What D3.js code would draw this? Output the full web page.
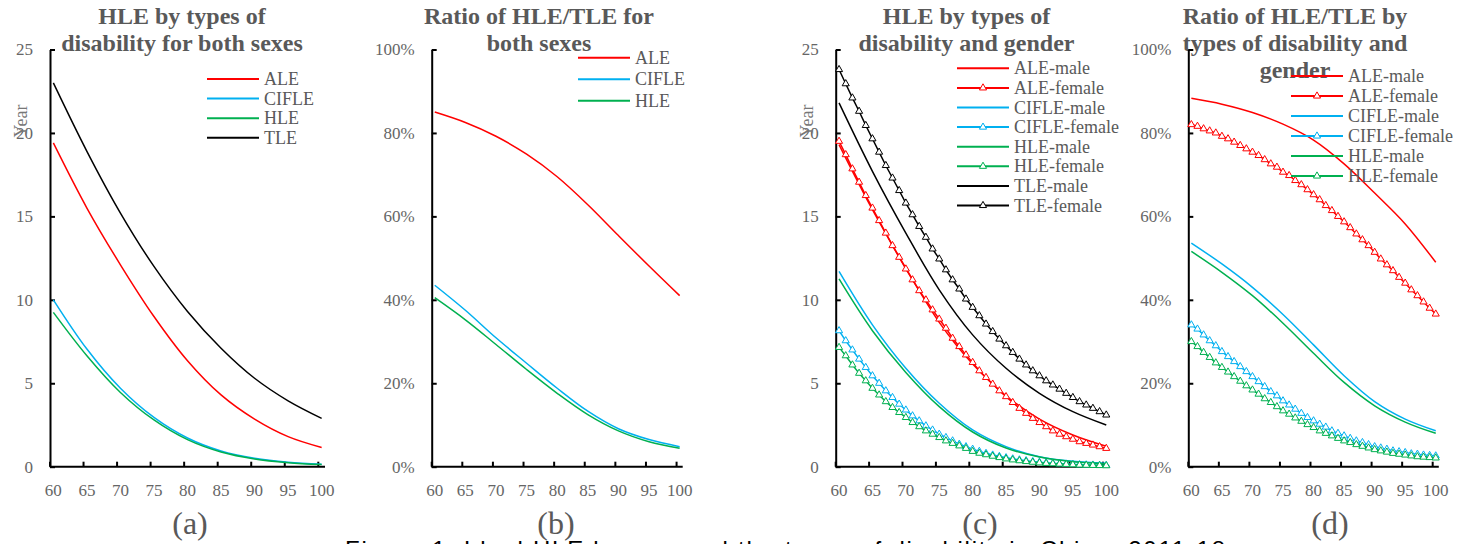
<!DOCTYPE html>
<html>
<head>
<meta charset="utf-8">
<script src="https://cdn.jsdelivr.net/npm/d3@7"></script>
<style>
body{margin:0;background:#fff;}
svg{display:block;font-family:"Liberation Serif","Times New Roman",serif;}
</style>
</head>
<body>
<div class="c_fig"></div>
<script>

/*DATA
------------------------------------------------------
*/
const ages = [60,61,62,63,64,65,66,67,68,69,70,71,72,73,74,75,76,77,78,79,80,
	81,82,83,84,85,86,87,88,89,90,91,92,93,94,95,96,97,98,99,100];
const ages5 = [60,65,70,75,80,85,90,95,100];

// (a) years, both sexes
const aALE   = [19.4, 15.5, 12.1, 9.0, 6.35, 4.3, 2.85, 1.8, 1.15];
const aCIFLE = [10.0, 7.05, 4.7, 2.95, 1.72, 0.94, 0.5, 0.26, 0.14];
const aHLE   = [9.25, 6.65, 4.45, 2.8, 1.62, 0.88, 0.46, 0.24, 0.13];
const aTLE   = [23.0, 18.9, 15.2, 12.0, 9.3, 7.1, 5.3, 3.95, 2.9];

// (b) ratio %, both sexes
const bALE   = [85.0, 82.5, 79.2, 74.9, 69.5, 62.8, 55.4, 48.1, 41.0];
const bCIFLE = [43.5, 37.5, 30.9, 24.8, 18.8, 13.3, 9.1, 6.5, 4.8];
const bHLE   = [40.5, 35.2, 29.3, 23.3, 17.6, 12.5, 8.6, 6.0, 4.4];

// (c) years by gender
const cALEm   = [19.3, 15.4, 11.9, 8.65, 6.15, 4.25, 2.85, 1.9, 1.22];
const cCIFLEm = [11.7, 8.5, 5.9, 3.8, 2.2, 1.2, 0.6, 0.32, 0.2];
const cHLEm   = [11.25, 8.15, 5.65, 3.6, 2.08, 1.12, 0.58, 0.3, 0.18];
const cTLEm   = [21.8, 17.7, 14.0, 10.6, 7.9, 5.9, 4.4, 3.3, 2.5];
const cALEf   = [19.5,18.7,17.85,17.05,16.25,15.5,14.75,14.0,13.25,12.55,
	11.85,11.2,10.55,10.0,9.4,8.85,8.3,7.7,7.2,6.7,
	6.25,5.75,5.35,4.95,4.55,4.2,3.85,3.5,3.2,2.9,
	2.65,2.4,2.15,1.95,1.8,1.65,1.5,1.4,1.3,1.2,1.1];
const cCIFLEf = [8.15,7.55,7.0,6.45,5.95,5.45,5.0,4.55,4.15,3.75,
	3.4,3.05,2.75,2.45,2.2,1.95,1.75,1.55,1.35,1.2,
	1.05,0.92,0.8,0.7,0.62,0.54,0.47,0.41,0.36,0.31,
	0.27,0.24,0.21,0.18,0.16,0.14,0.12,0.11,0.1,0.09,0.08];
const cHLEf   = [7.15,6.65,6.1,5.6,5.15,4.7,4.3,3.9,3.55,3.25,
	2.95,2.65,2.4,2.15,1.95,1.75,1.55,1.4,1.25,1.1,
	0.92,0.81,0.72,0.63,0.55,0.47,0.41,0.36,0.31,0.27,
	0.23,0.2,0.18,0.16,0.14,0.12,0.1,0.09,0.08,0.07,0.06];
const cTLEf   = [23.8,22.95,22.1,21.3,20.45,19.65,18.85,18.05,17.3,16.55,
	15.8,15.1,14.4,13.75,13.05,12.45,11.8,11.2,10.65,10.05,
	9.55,9.05,8.55,8.1,7.65,7.25,6.85,6.45,6.1,5.75,
	5.45,5.15,4.9,4.65,4.4,4.15,3.9,3.7,3.5,3.3,3.1];

// (d) ratio % by gender
const dALEm   = [88.3, 86.9, 84.9, 82.1, 78.3, 72.6, 65.6, 58.2, 49.0];
const dCIFLEm = [53.6, 48.6, 43.0, 36.5, 29.2, 21.8, 15.6, 11.4, 8.6];
const dHLEm   = [51.6, 46.6, 41.0, 34.4, 27.2, 20.2, 14.6, 10.7, 8.0];
const dALEf   = [82.0,81.6,81.0,80.5,80.0,79.2,78.6,77.8,77.0,76.2,
	75.4,74.6,73.6,72.6,71.8,70.6,69.8,68.6,67.6,66.4,
	65.2,64.0,62.6,61.4,60.0,58.7,57.3,55.8,54.4,53.0,
	51.4,49.8,48.4,47.0,45.4,44.0,42.4,41.0,39.5,38.0,36.6];
const dCIFLEf = [34.0,33.0,31.6,30.2,29.0,27.6,26.4,25.2,24.0,22.8,
	21.6,20.4,19.2,18.0,17.0,15.8,14.8,13.8,12.8,11.8,
	11.0,10.2,9.5,8.6,8.0,7.4,6.8,6.2,5.8,5.3,
	4.8,4.5,4.2,3.8,3.6,3.4,3.1,3.0,2.8,2.7,2.6];
const dHLEf   = [30.0,28.8,27.4,26.2,24.9,23.8,22.7,21.6,20.5,19.4,
	18.4,17.4,16.3,15.4,14.4,13.4,12.6,11.7,10.9,10.1,
	9.4,8.6,8.0,7.4,6.8,6.2,5.8,5.3,4.9,4.5,
	4.1,3.8,3.5,3.2,3.0,2.8,2.6,2.4,2.3,2.2,2.1];

const yearTicks  = [0,5,10,15,20,25];
const ratioTicks = [0,20,40,60,80,100];
const xTicks = [60,65,70,75,80,85,90,95,100];

const RED = "#ff0000", BLUE = "#00b0f0", GREEN = "#00b050", BLACK = "#000000";
const SERIF = "Liberation Serif, Times New Roman, serif";

/*SVG
------------------------------------------------------
*/
const width = 1459, height = 544;
const yTop = 49.5, yBottom = 466.7;

const svg = d3.select(".c_fig")
	.append("svg")
	.attr("width", width)
	.attr("height", height);

const panels = [
	{label:"(a)", labelX:190, left:50, right:325, max:25, ticks:yearTicks, fmt:d=>d,
	 title:["HLE by types of","disability for both sexes"], titleX:182, yName:true,
	 legend:{x:207, y:79, dy:19.6},
	 series:[
		{name:"ALE", color:RED, ages:ages5, values:aALE},
		{name:"CIFLE", color:BLUE, ages:ages5, values:aCIFLE},
		{name:"HLE", color:GREEN, ages:ages5, values:aHLE},
		{name:"TLE", color:BLACK, ages:ages5, values:aTLE}]},
	{label:"(b)", labelX:556, left:431.7, right:682.7, max:100, ticks:ratioTicks, fmt:d=>d+"%",
	 title:["Ratio of HLE/TLE for","both sexes"], titleX:539,
	 legend:{x:578, y:57.7, dy:21.5},
	 series:[
		{name:"ALE", color:RED, ages:ages5, values:bALE},
		{name:"CIFLE", color:BLUE, ages:ages5, values:bCIFLE},
		{name:"HLE", color:GREEN, ages:ages5, values:bHLE}]},
	{label:"(c)", labelX:980, left:835.7, right:1109.6, max:25, ticks:yearTicks, fmt:d=>d,
	 title:["HLE by types of","disability and gender"], titleX:966.5, yName:true,
	 legend:{x:957, y:68.3, dy:19.6},
	 series:[
		{name:"ALE-male", color:RED, ages:ages5, values:cALEm},
		{name:"ALE-female", color:RED, ages:ages, values:cALEf, marker:true},
		{name:"CIFLE-male", color:BLUE, ages:ages5, values:cCIFLEm},
		{name:"CIFLE-female", color:BLUE, ages:ages, values:cCIFLEf, marker:true},
		{name:"HLE-male", color:GREEN, ages:ages5, values:cHLEm},
		{name:"HLE-female", color:GREEN, ages:ages, values:cHLEf, marker:true},
		{name:"TLE-male", color:BLACK, ages:ages5, values:cTLEm},
		{name:"TLE-female", color:BLACK, ages:ages, values:cTLEf, marker:true}]},
	{label:"(d)", labelX:1330, left:1188.3, right:1438.8, max:100, ticks:ratioTicks, fmt:d=>d+"%",
	 title:["Ratio of HLE/TLE by","types of disability and","gender"], titleX:1295,
	 legend:{x:1291, y:76, dy:20},
	 series:[
		{name:"ALE-male", color:RED, ages:ages5, values:dALEm},
		{name:"ALE-female", color:RED, ages:ages, values:dALEf, marker:true},
		{name:"CIFLE-male", color:BLUE, ages:ages5, values:dCIFLEm},
		{name:"CIFLE-female", color:BLUE, ages:ages, values:dCIFLEf, marker:true},
		{name:"HLE-male", color:GREEN, ages:ages5, values:dHLEm},
		{name:"HLE-female", color:GREEN, ages:ages, values:dHLEf, marker:true}]}
];

const tri = d3.symbol().type(d3.symbolTriangle).size(22);

panels.forEach(function(p){
	let g = svg.append("g");

	/*SCALES*/
	let x = d3.scaleBand().domain(ages).range([p.left, p.right]).padding(0);
	let xc = a => x(a) + x.bandwidth()/2;
	let y = d3.scaleLinear().domain([0, p.max]).range([yBottom, yTop]);

	/*TITLE*/
	g.append("text")
		.attr("text-anchor","middle")
		.attr("font-family", SERIF)
		.attr("font-weight","bold")
		.attr("font-size","24px")
		.attr("fill","#595959")
		.selectAll("tspan")
		.data(p.title)
		.enter()
		.append("tspan")
		.attr("x", p.titleX)
		.attr("y", (d,i) => 24 + i*27)
		.text(d => d);

	/*Y AXIS*/
	let yAxis = d3.axisLeft(y)
		.tickValues(p.ticks)
		.tickFormat(p.fmt)
		.tickSizeInner(-5)
		.tickSizeOuter(0)
		.tickPadding(17);
	let ya = g.append("g")
		.attr("transform","translate(" + p.left + ",0)")
		.call(yAxis)
		.attr("font-family", SERIF);
	ya.select(".domain").attr("stroke","#000").attr("stroke-width",2);
	ya.selectAll(".tick line").attr("stroke","#000").attr("stroke-width",2);
	ya.selectAll(".tick text")
		.attr("fill","#666")
		.attr("font-size","17px")
		.attr("font-family", SERIF);

	/*X AXIS*/
	g.append("line")
		.attr("x1", p.left).attr("x2", p.right)
		.attr("y1", yBottom).attr("y2", yBottom)
		.attr("stroke","#000").attr("stroke-width",2);
	g.selectAll(".xtick")
		.data(xTicks)
		.enter()
		.append("line")
		.attr("class","xtick")
		.attr("x1", d => x(d)).attr("x2", d => x(d))
		.attr("y1", yBottom).attr("y2", yBottom - 5)
		.attr("stroke","#000").attr("stroke-width",2);
	g.selectAll(".xlab")
		.data(xTicks)
		.enter()
		.append("text")
		.attr("class","xlab")
		.attr("x", d => xc(d))
		.attr("y", yBottom + 29)
		.attr("text-anchor","middle")
		.attr("font-family", SERIF)
		.attr("font-size","17px")
		.attr("fill","#666")
		.text(d => d);

	if (p.yName) {
		g.append("text")
			.attr("transform","translate(" + (p.left - 23) + ",121) rotate(-90)")
			.attr("text-anchor","middle")
			.attr("font-family", SERIF)
			.attr("font-size","18px")
			.attr("fill","#777")
			.text("Year");
	}

	/*LINES*/
	p.series.forEach(function(s){
		let pts = s.ages.map((a,i) => ({age:a, v:s.values[i]}));
		let line = d3.line()
			.x(d => xc(d.age))
			.y(d => y(d.v))
			.curve(s.marker ? d3.curveLinear : d3.curveCatmullRom);
		g.append("path")
			.datum(pts)
			.attr("d", line)
			.attr("fill","none")
			.attr("stroke", s.color)
			.attr("stroke-width", 1.5);
		if (s.marker) {
			g.selectAll(null)
				.data(pts)
				.enter()
				.append("path")
				.attr("d", tri)
				.attr("transform", d => "translate(" + xc(d.age) + "," + y(d.v) + ")")
				.attr("fill","#fff")
				.attr("stroke", s.color)
				.attr("stroke-width", 1);
		}
	});

	/*LEGEND*/
	let lg = g.selectAll(".leg")
		.data(p.series)
		.enter()
		.append("g")
		.attr("transform", (d,i) => "translate(" + p.legend.x + "," + (p.legend.y + i*p.legend.dy) + ")");
	lg.append("line")
		.attr("x1",0).attr("x2",52)
		.attr("stroke", d => d.color)
		.attr("stroke-width",2);
	lg.filter(d => d.marker)
		.append("path")
		.attr("d", tri)
		.attr("transform","translate(26,0)")
		.attr("fill","#fff")
		.attr("stroke", d => d.color);
	lg.append("text")
		.attr("x",57)
		.attr("y",6)
		.attr("font-family", SERIF)
		.attr("font-size","18px")
		.attr("fill","#595959")
		.text(d => d.name);

	/*PANEL LABEL*/
	g.append("text")
		.attr("x", p.labelX)
		.attr("y", 534)
		.attr("text-anchor","middle")
		.attr("font-family", SERIF)
		.attr("font-size","32px")
		.attr("fill","#595959")
		.text(p.label);
});

svg.append("text")
	.attr("x", 345)
	.attr("y", 558)
	.attr("font-family","Liberation Sans, Arial, sans-serif")
	.attr("font-size","24px")
	.attr("fill","#000")
	.attr("textLength", 880)
	.attr("lengthAdjust","spacing")
	.text("Figure 1. Ideal HLE by age and the types of disability in China, 2011-18");

</script>
</body>
</html>
